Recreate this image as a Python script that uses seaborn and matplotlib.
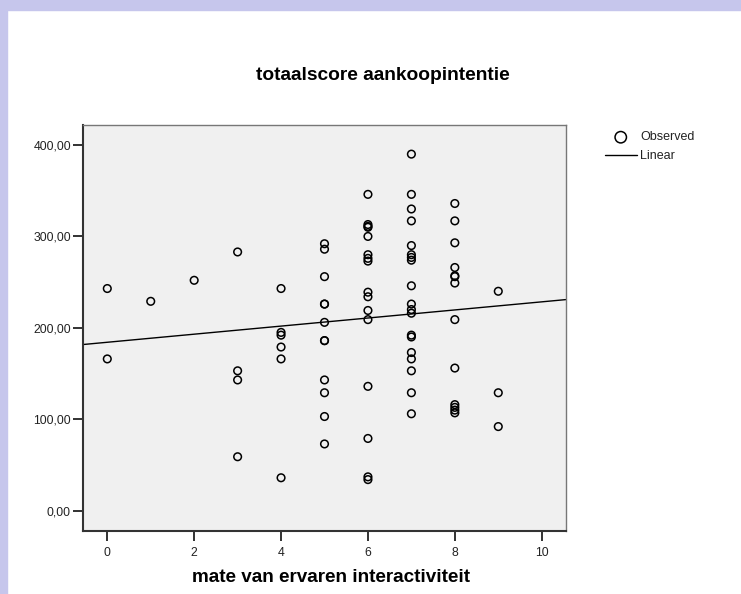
import matplotlib
matplotlib.use("Agg")
import matplotlib.pyplot as plt
import matplotlib.patches as mpatches
import matplotlib.ticker as mticker
import seaborn as sns
import numpy as np

# ---- data ----
x_groups = [0, 1, 2, 3, 4, 5, 6, 7, 8, 9]
y_groups = [
    [243, 166],
    [229],
    [252],
    [283, 153, 143, 59],
    [243, 195, 192, 179, 166, 36],
    [292, 286, 256, 226, 226, 206, 186, 186, 143, 129, 103, 73],
    [346, 313, 311, 310, 300, 280, 276, 273, 239, 234, 219, 209, 136, 79, 37, 34],
    [390, 346, 330, 317, 290, 280, 277, 274, 246, 226, 220, 216, 192, 190, 173,
     166, 153, 129, 106],
    [336, 317, 293, 266, 257, 256, 249, 209, 156, 116, 113, 110, 107],
    [240, 129, 92],
]
interactiviteit = [xg for xg, ys in zip(x_groups, y_groups) for _ in ys]
aankoopintentie = [y for ys in y_groups for y in ys]

x_ticks = [0, 2, 4, 6, 8, 10]
y_ticks = [0, 100, 200, 300, 400]
title = "totaalscore aankoopintentie"
x_label = "mate van ervaren interactiviteit"

sns.set_style("white")
plt.rcParams["font.family"] = ["Liberation Sans", "DejaVu Sans"]

W, H = 741, 594
fig = plt.figure(figsize=(W / 100, H / 100), dpi=100)
fig.patch.set_facecolor("white")

# lavender frame at top and left
frame_col = "#c6c6ec"
fig.patches.append(mpatches.Rectangle((0, 1 - 10 / H), 1, 10 / H, transform=fig.transFigure,
                                      color=frame_col, zorder=0))
fig.patches.append(mpatches.Rectangle((0, 0), 7 / W, 1, transform=fig.transFigure,
                                      color=frame_col, zorder=0))

left, right, top, bottom = 82.7, 565.7, 124.7, 530.7
ax = fig.add_axes([left / W, 1 - bottom / H, (right - left) / W, (bottom - top) / H])
ax.set_facecolor("#f0f0f0")

xlim = (-0.566, 10.552)
ylim = (-21.9, 422.2)
ax.set_xlim(*xlim)
ax.set_ylim(*ylim)

sns.regplot(
    x=interactiviteit, y=aankoopintentie, ax=ax, ci=None, truncate=False,
    label="Observed",
    scatter_kws=dict(facecolors="none", edgecolors="black", s=30, linewidths=1.1,
                     alpha=1, zorder=3),
    line_kws=dict(color="black", lw=1.0, label="Linear", zorder=2),
)
ax.set_xlim(*xlim)
ax.set_ylim(*ylim)
for ln in ax.lines:
    ln.set_clip_on(True)
    ln.set_clip_path(ax.patch)

ax.set_xticks(x_ticks)
ax.set_yticks(y_ticks)
ax.yaxis.set_major_formatter(mticker.FuncFormatter(lambda v, p: f"{v:.2f}".replace(".", ",")))
ax.tick_params(axis="both", direction="out", labelsize=8.8, labelcolor="#222222",
               color="#222222", width=1.3, left=True, bottom=True)
ax.tick_params(axis="y", length=7, pad=1.5)
ax.tick_params(axis="x", length=7.5, pad=4)
ax.set_xlabel("")
ax.set_ylabel("")

for side in ["left", "bottom"]:
    ax.spines[side].set_color("#333333")
    ax.spines[side].set_linewidth(1.5)
for side in ["top", "right"]:
    ax.spines[side].set_color("#777777")
    ax.spines[side].set_linewidth(1.0)
    ax.spines[side].set_visible(True)

fig.text(383 / W, 1 - 75 / H, title, ha="center", va="center", fontsize=13.8,
         fontweight="bold", color="black")
fig.text(331 / W, 1 - 577 / H, x_label, ha="center", va="center", fontsize=13.6,
         fontweight="bold", color="black")

leg = ax.legend(loc="upper left", bbox_to_anchor=(604.5 / W, 1 - 131.5 / H),
                bbox_transform=fig.transFigure, frameon=False, fontsize=9,
                markerscale=1.5, handlelength=2.6, handletextpad=0.25,
                labelspacing=0.55, borderpad=0, borderaxespad=0)
for t in leg.get_texts():
    t.set_color("#222222")

fig.savefig("out.png", dpi=100, facecolor="white")
